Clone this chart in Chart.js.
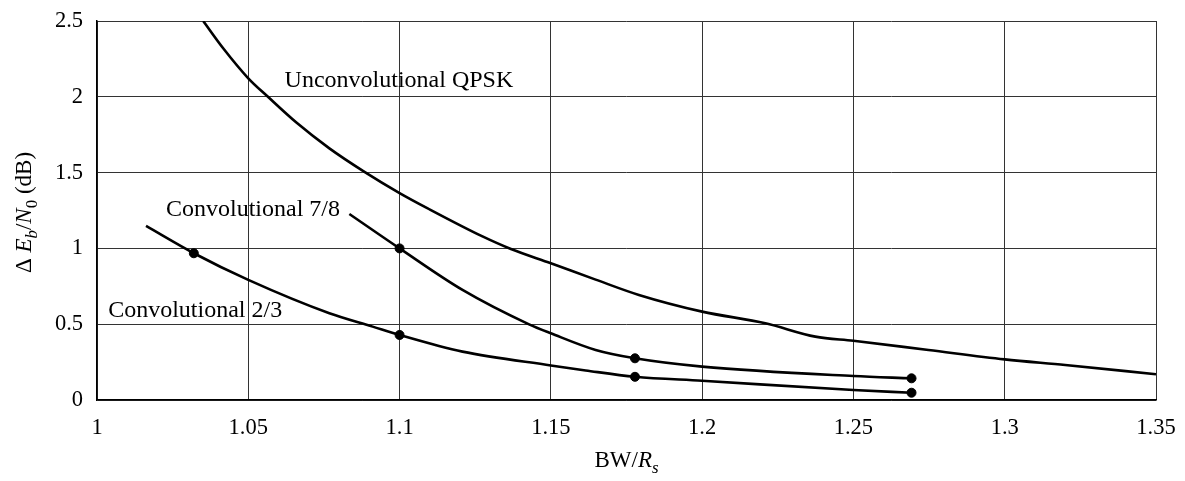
<!DOCTYPE html>
<html>
<head>
<meta charset="utf-8">
<script src="https://cdn.jsdelivr.net/npm/chart.js@4.4.1/dist/chart.umd.min.js"></script>
<style>
  html, body { margin: 0; padding: 0; background: #fff; }
  #wrap { width: 1185px; height: 481px; }
</style>
</head>
<body>
<div id="wrap"><canvas id="chart" width="1185" height="481"></canvas></div>
<script>
// x ticks and y ticks
const xTicks = [1, 1.05, 1.1, 1.15, 1.2, 1.25, 1.3, 1.35];
const yTicks = [0, 0.5, 1, 1.5, 2, 2.5];

// Unconvolutional QPSK curve
const qpskX = [1.0351, 1.0417, 1.05, 1.0565, 1.0659, 1.0768, 1.0884, 1.1, 1.1093, 1.1274, 1.1368, 1.15, 1.1648, 1.1791, 1.2, 1.2209, 1.2374, 1.25, 1.2748, 1.3, 1.32, 1.35];
const qpskY = [2.5, 2.32, 2.122, 2.0, 1.83, 1.66, 1.505, 1.365, 1.264, 1.079, 0.996, 0.902, 0.794, 0.693, 0.583, 0.506, 0.418, 0.391, 0.33, 0.268, 0.231, 0.17];

// Convolutional 7/8 curve
const conv78X = [1.0834, 1.1, 1.1208, 1.1428, 1.15, 1.1648, 1.1778, 1.2, 1.25, 1.2692];
const conv78Y = [1.227, 1.0, 0.726, 0.499, 0.44, 0.33, 0.275, 0.22, 0.158, 0.143];
const conv78DotX = [1.1, 1.1778, 1.2692];
const conv78DotY = [1.0, 0.275, 0.143];

// Convolutional 2/3 curve
const conv23X = [1.0162, 1.032, 1.05, 1.0768, 1.0911, 1.1, 1.1208, 1.15, 1.1615, 1.1778, 1.2, 1.25, 1.2692];
const conv23Y = [1.148, 0.968, 0.792, 0.572, 0.484, 0.429, 0.319, 0.228, 0.195, 0.153, 0.127, 0.066, 0.048];
const conv23DotX = [1.032, 1.1, 1.1778, 1.2692];
const conv23DotY = [0.968, 0.429, 0.153, 0.048];

const FONT = '"Liberation Serif", "Times New Roman", serif';
const TICK_SIZE = 22.5;
const LABEL_SIZE = 24;
const TITLE_SIZE = 23;

// curve annotations (left edge, baseline, in data units)
const curveLabels = [
  { text: 'Unconvolutional QPSK', x: 1.062, y: 2.067 },
  { text: 'Convolutional 7/8', x: 1.0228, y: 1.214 },
  { text: 'Convolutional 2/3', x: 1.0037, y: 0.545 }
];

const toPoints = (xs, ys) => xs.map((x, i) => ({ x, y: ys[i] }));

function lineSet(label, xs, ys) {
  return {
    label,
    data: toPoints(xs, ys),
    showLine: true,
    borderColor: '#000',
    borderWidth: 2.6,
    pointRadius: 0,
    cubicInterpolationMode: 'monotone',
    fill: false
  };
}

function dotSet(label, xs, ys) {
  return {
    label,
    data: toPoints(xs, ys),
    showLine: false,
    pointRadius: 4.5,
    pointBackgroundColor: '#000',
    pointBorderColor: '#000'
  };
}

// draw mixed-style text: parts = [{t, it, sub}]
function drawRich(ctx, parts, x, y, size, align) {
  const fontFor = p => `${p.it ? 'italic ' : ''}${p.sub ? Math.round(size * 0.72) : size}px ${FONT}`;
  let total = 0;
  parts.forEach(p => { ctx.font = fontFor(p); total += ctx.measureText(p.t).width; });
  let cx = align === 'center' ? x - total / 2 : x;
  ctx.textAlign = 'left';
  ctx.textBaseline = 'alphabetic';
  parts.forEach(p => {
    ctx.font = fontFor(p);
    ctx.fillText(p.t, cx, y + (p.sub ? size * 0.25 : 0));
    cx += ctx.measureText(p.t).width;
  });
}

const textPlugin = {
  id: 'textLabels',
  afterDraw(chart) {
    const ctx = chart.ctx;
    const xs = chart.scales.x;
    const ys = chart.scales.y;
    ctx.save();
    ctx.fillStyle = '#000';
    ctx.font = `${LABEL_SIZE}px ${FONT}`;
    ctx.textAlign = 'left';
    ctx.textBaseline = 'alphabetic';
    curveLabels.forEach(l => {
      ctx.fillText(l.text, xs.getPixelForValue(l.x), ys.getPixelForValue(l.y));
    });

    // x axis title
    drawRich(ctx, [{ t: 'BW/' }, { t: 'R', it: true }, { t: 's', it: true, sub: true }],
      (chart.chartArea.left + chart.chartArea.right) / 2, 467, TITLE_SIZE, 'center');

    // y axis title
    ctx.save();
    ctx.translate(31, (chart.chartArea.top + chart.chartArea.bottom) / 2 + 2);
    ctx.rotate(-Math.PI / 2);
    drawRich(ctx, [
      { t: 'Δ ' }, { t: 'E', it: true }, { t: 'b', it: true, sub: true },
      { t: '/' }, { t: 'N', it: true }, { t: '0', sub: true }, { t: ' (dB)' }
    ], 0, 0, TITLE_SIZE, 'center');
    ctx.restore();
    ctx.restore();
  }
};

new Chart(document.getElementById('chart').getContext('2d'), {
  type: 'scatter',
  data: {
    datasets: [
      lineSet('Unconvolutional QPSK', qpskX, qpskY),
      lineSet('Convolutional 7/8', conv78X, conv78Y),
      dotSet('Convolutional 7/8 points', conv78DotX, conv78DotY),
      lineSet('Convolutional 2/3', conv23X, conv23Y),
      dotSet('Convolutional 2/3 points', conv23DotX, conv23DotY)
    ]
  },
  options: {
    responsive: false,
    animation: false,
    layout: { padding: { left: 0, top: 21, right: 29, bottom: 0 } },
    plugins: {
      legend: { display: false },
      tooltip: { enabled: false }
    },
    scales: {
      x: {
        type: 'linear',
        min: 1,
        max: 1.35,
        afterBuildTicks: s => { s.ticks = xTicks.map(v => ({ value: v })); },
        afterFit: s => { s.height = 81; s.paddingLeft = 0; s.paddingRight = 0; },
        ticks: {
          color: '#000',
          font: { family: FONT, size: TICK_SIZE },
          padding: 15,
          maxRotation: 0,
          callback: v => String(v)
        },
        grid: { color: '#333', lineWidth: 1, drawTicks: false },
        border: { color: '#000', width: 1.5 }
      },
      y: {
        type: 'linear',
        min: 0,
        max: 2.5,
        afterBuildTicks: s => { s.ticks = yTicks.map(v => ({ value: v })); },
        afterFit: s => { s.width = 97; s.paddingTop = 0; s.paddingBottom = 0; },
        ticks: {
          color: '#000',
          font: { family: FONT, size: TICK_SIZE },
          padding: 14,
          callback: v => String(v)
        },
        grid: { color: '#333', lineWidth: 1, drawTicks: false },
        border: { color: '#000', width: 1.5 }
      }
    }
  },
  plugins: [textPlugin]
});
</script>
</body>
</html>
